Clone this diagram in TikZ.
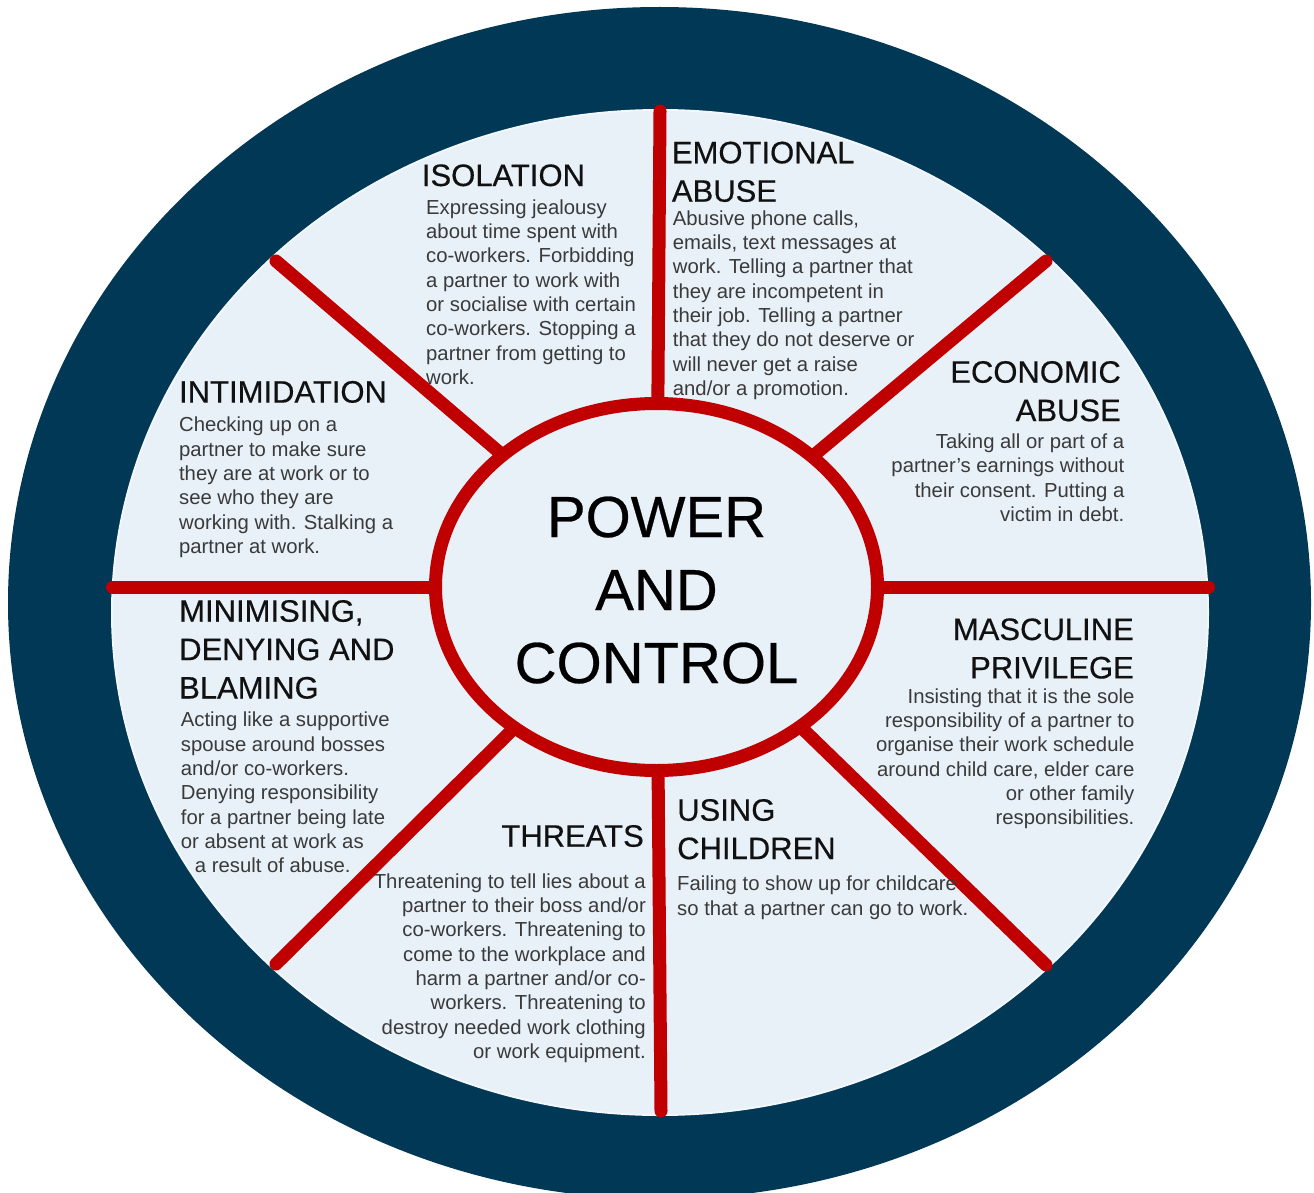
\documentclass[tikz,border=0pt]{standalone}
\usepackage{fontspec}
\setmainfont{Liberation Sans}
\newfontface\headface[FakeBold=0.45]{Liberation Sans}
\usetikzlibrary{shapes.geometric}
\definecolor{navy}{RGB}{0,56,85}
\definecolor{paleblue}{RGB}{232,240,248}
\definecolor{rimwhite}{RGB}{242,247,251}
\definecolor{wheelred}{RGB}{192,0,0}
\definecolor{bodygray}{RGB}{58,58,58}
\definecolor{headblack}{RGB}{17,17,17}

\begin{document}
% multi-line nodes are placed by the baseline of their last line
\begin{tikzpicture}[x=1pt,y=-1pt,
  spoke/.style={draw=wheelred,line width=13pt,line cap=round},
  heading/.style={inner sep=0pt,text=headblack,font=\headface\fontsize{31}{38.4}\selectfont},
  bodytext/.style={inner sep=0pt,text=bodygray,font=\fontsize{20.3}{24.35}\selectfont},
  lefttext/.style={anchor=base west,align=left},
  righttext/.style={anchor=base east,align=right},
]
\useasboundingbox (0,0) rectangle (1314,1193);
\fill[white] (0,0) rectangle (1314,1193);

% outer dark rim and pale wheel
\fill[navy] (659.5,603) ellipse [x radius=651.5, y radius=596];
\filldraw[fill=paleblue, draw=rimwhite, line width=2pt] (660,612.5) ellipse [x radius=548, y radius=502.5];

% spokes
\coordinate (c) at (656.5,587);
\coordinate (pN) at (660,111);
\coordinate (pS) at (661,1111);
\coordinate (pW) at (112.5,587);
\coordinate (pE) at (1208.5,587);
\coordinate (pNW) at (276,261);
\coordinate (pNE) at (1046,261);
\coordinate (pSW) at (276,964);
\coordinate (pSE) at (1046,965);
\foreach \p in {pN,pS,pW,pE,pNW,pNE,pSW,pSE}
  \draw[spoke] (c) -- (\p);

% hub
\node[ellipse, draw=wheelred, fill=paleblue, line width=13pt,
      minimum width=442pt, minimum height=367pt, inner sep=0pt] (hub) at (c) {};
\node[anchor=base, align=center, inner sep=0pt, text=black,
      font=\headface\fontsize{58}{73}\selectfont] (title) at (656.5,683) {POWER\\AND\\CONTROL};

% isolation
\node[heading,lefttext] (isoH) at (421.7,186) {ISOLATION};
\node[bodytext,lefttext] (isoB) at (426,384.45) {Expressing jealousy\\about time spent with\\co-workers. Forbidding\\a partner to work with\\or socialise with certain\\co-workers. Stopping a\\partner from getting to\\work.};

% emotional abuse
\node[heading,lefttext] (emoH) at (671.7,201.7) {EMOTIONAL\\ABUSE};
\node[bodytext,lefttext] (emoB) at (672.7,395.45) {Abusive phone calls,\\emails, text messages at\\work. Telling a partner that\\they are incompetent in\\their job. Telling a partner\\that they do not deserve or\\will never get a raise\\and/or a promotion.};

% economic abuse
\node[heading,righttext] (ecoH) at (1121,421.1) {ECONOMIC\\ABUSE};
\node[bodytext,righttext] (ecoB) at (1124.5,521.35) {Taking all or part of a\\partner’s earnings without\\their consent. Putting a\\victim in debt.};

% intimidation
\node[heading,lefttext] (intH) at (178.9,402.6) {INTIMIDATION};
\node[bodytext,lefttext] (intB) at (178.9,553.45) {Checking up on a\\partner to make sure\\they are at work or to\\see who they are\\working with. Stalking a\\partner at work.};

% minimising, denying and blaming
\node[heading,lefttext] (minH) at (179,698.5) {MINIMISING,\\DENYING AND\\BLAMING};
\node[bodytext,lefttext] (minB) at (180.7,872.8) {Acting like a supportive\\spouse around bosses\\and/or co-workers.\\Denying responsibility\\for a partner being late\\or absent at work as\\\hspace*{14pt}a result of abuse.};

% threats
\node[heading,righttext] (thrH) at (644,846.7) {THREATS};
\node[bodytext,righttext] (thrB) at (646,1058.45) {Threatening to tell lies about a\\partner to their boss and/or\\co-workers. Threatening to\\come to the workplace and\\harm a partner and/or co-\\workers. Threatening to\\destroy needed work clothing\\or work equipment.};

% using children
\node[heading,lefttext] (chiH) at (677,859.1) {USING\\CHILDREN};
\node[bodytext,lefttext] (chiB) at (677,915.05) {Failing to show up for childcare\\so that a partner can go to work.};

% masculine privilege
\node[heading,righttext] (masH) at (1134,678.4) {MASCULINE\\PRIVILEGE};
\node[bodytext,righttext] (masB) at (1134.6,824.75) {Insisting that it is the sole\\responsibility of a partner to\\organise their work schedule\\around child care, elder care\\or other family\\responsibilities.};
\end{tikzpicture}
\end{document}
